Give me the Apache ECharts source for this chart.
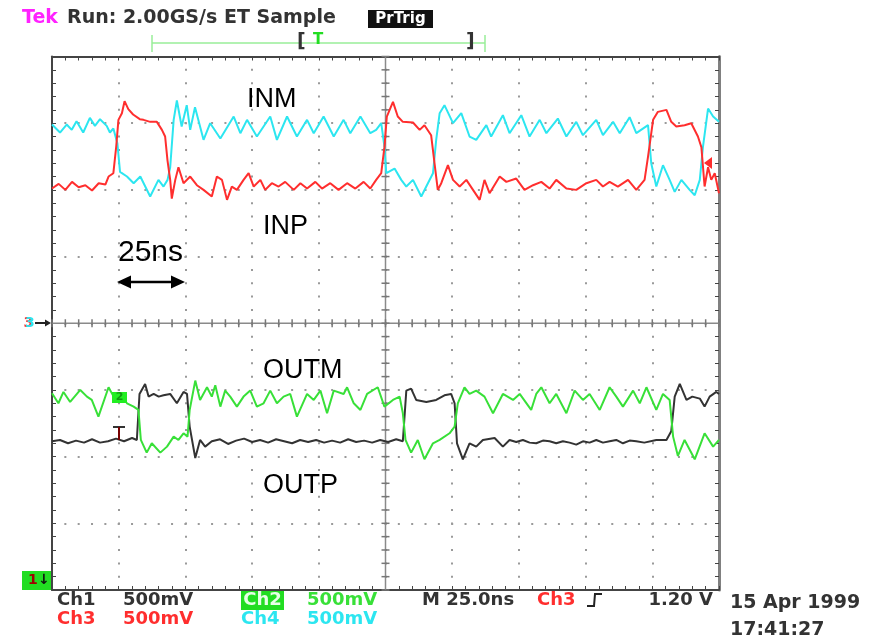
<!DOCTYPE html>
<html>
<head>
<meta charset="utf-8">
<script src="https://cdn.jsdelivr.net/npm/echarts@6/dist/echarts.min.js"></script>
<style>
html,body{margin:0;padding:0;background:#fff;}
#chart{width:879px;height:643px;}
</style>
</head>
<body>
<div id="chart"></div>
<script>
// ---- Axis settings (time in ns, vertical in screen divisions, 500 mV/div) ----
const TIME_MIN = 0, TIME_MAX = 250, TIME_PER_DIV = 25;
const DIV_MIN = -4, DIV_MAX = 4, DIV_STEP = 1;

// ---- Traces: [time ns, divisions] ----
const ch4INM = [[0,2.98],[3,2.86],[5.5,2.98],[7.4,2.90],[9.2,3.03],[11.7,2.86],[14.2,3.08],[16.1,2.96],[18,3.06],[20.5,2.96],[21.7,2.86],[23,2.92],[24.5,2.70],[25.5,2.27],[26.2,2.25],[28.1,2.20],[30.6,2.10],[33.1,2.20],[36.8,1.90],[39.9,2.15],[41.8,2.05],[43.3,2.15],[44.3,2.34],[45.6,3.05],[46.8,3.34],[48.6,2.95],[50.5,3.27],[51.8,2.90],[53.6,3.24],[56.8,2.75],[59.3,3.00],[63.1,2.77],[68.1,3.10],[70.6,2.85],[73.1,3.05],[76.8,2.80],[81.8,3.10],[84.3,2.75],[88.1,3.10],[91.8,2.80],[95.6,3.05],[98.1,2.85],[101.8,3.10],[105.6,2.80],[109.3,3.05],[111.8,2.85],[115.6,3.10],[119.3,2.85],[121.5,2.90],[123.4,3.00],[124.6,2.65],[125.3,2.25],[128.4,2.32],[130.9,2.15],[132.8,2.05],[135.3,2.15],[138.4,1.90],[140.9,2.10],[142.8,2.25],[144,2.75],[145.3,3.15],[147.1,3.27],[150.3,3.00],[153.4,3.15],[156.5,2.80],[159,2.75],[162.8,2.97],[164.6,2.80],[169,3.12],[171.5,2.85],[175.9,3.12],[179,2.80],[182.8,3.05],[185.3,2.85],[189.6,3.07],[192.8,2.80],[196.5,3.02],[199,2.82],[204,3.05],[206.5,2.82],[210.3,3.02],[212.8,2.85],[216.5,3.09],[219,2.85],[223.4,2.97],[224.6,2.40],[226.5,2.05],[229,2.37],[231.5,2.15],[233.4,1.97],[235.9,2.15],[239,2.00],[240.9,1.92],[242.8,2.15],[244,2.65],[245.9,3.22],[247.8,3.10],[250,3.02]];

const ch3INP = [[0,2.02],[2.5,2.09],[5,2.00],[7.5,2.12],[10,2.04],[12.5,2.07],[15,1.99],[17.5,2.10],[20,2.08],[21.2,2.20],[23,2.25],[24.05,2.64],[24.9,3.05],[26.2,3.15],[27.2,3.33],[28.6,3.21],[30.4,3.13],[32.9,3.06],[34.3,3.05],[36.8,3.02],[39.3,3.02],[41.2,2.90],[42.4,2.80],[43.3,2.44],[44.3,2.15],[44.9,1.87],[46.2,2.15],[47.4,2.34],[49.3,2.10],[51.8,2.20],[54.3,2.07],[56.8,2.00],[59.9,1.90],[61.8,2.20],[63.7,2.15],[65.6,1.85],[67.4,2.05],[69.3,2.00],[71.8,2.15],[73.7,2.25],[75.6,2.05],[78.1,2.15],[79.9,2.00],[82.4,2.10],[84.9,2.05],[87.4,2.12],[90.6,2.00],[93.1,2.10],[95.6,2.02],[98.7,2.12],[101.2,2.02],[104.3,2.10],[107.4,2.00],[110.6,2.10],[113.7,2.02],[116.8,2.12],[119.3,2.02],[121.5,2.15],[123.4,2.25],[124.6,2.64],[125.5,3.10],[127.8,3.32],[129.6,3.10],[131.5,3.02],[135.3,3.01],[137.8,2.90],[139.6,2.97],[142.1,2.82],[143.4,2.39],[144.6,2.00],[145.9,2.10],[148.4,2.37],[150.3,2.15],[152.8,2.05],[155.3,2.15],[157.8,2.00],[160.3,1.85],[162.1,2.15],[164,1.95],[167.8,2.20],[170.3,2.12],[174,2.17],[177.1,2.00],[180.3,2.07],[183.4,2.12],[186.5,2.02],[189,2.15],[192.8,2.02],[196.5,2.00],[200.3,2.10],[204,2.15],[206.5,2.05],[209,2.12],[212.1,2.05],[215.9,2.15],[219,2.00],[222.1,2.15],[223.4,2.50],[225.3,3.05],[227.1,3.17],[230.3,3.20],[232.1,3.02],[234,2.95],[237.1,2.97],[239.6,3.00],[242.1,2.80],[243.4,2.64],[244.6,2.05],[245.9,2.34],[247.1,2.15],[248.4,2.25],[250,1.95]];

const ch2OUTM = [[0,-1.05],[2.4,-1.20],[4.3,-1.03],[6.8,-1.18],[10.6,-1.00],[13.1,-1.10],[14.9,-1.15],[17.4,-1.40],[21.2,-0.96],[23.1,-1.10],[25.6,-1.06],[28.1,-1.20],[30.6,-1.25],[32.4,-1.30],[33.3,-1.75],[35.5,-1.94],[37.4,-1.80],[40.6,-1.94],[43.1,-1.85],[45.6,-1.70],[47.4,-1.75],[49.3,-1.65],[50.8,-1.70],[51.6,-1.30],[53.7,-0.86],[55.5,-1.15],[58.1,-0.96],[59.9,-1.10],[61.2,-0.93],[63.1,-1.25],[64.9,-1.01],[66.8,-1.10],[69.3,-1.25],[71.8,-1.10],[74.3,-1.01],[76.8,-1.25],[79.3,-1.20],[81.8,-1.01],[84.3,-1.20],[86.8,-1.10],[89.3,-1.06],[91.8,-1.40],[95.6,-1.06],[98.1,-1.15],[100.6,-1.01],[103.1,-1.35],[105.6,-1.01],[109.3,-1.06],[110.6,-0.96],[113.1,-1.20],[115.6,-1.30],[118.1,-1.06],[122.1,-0.96],[124.6,-1.25],[127.8,-1.15],[130.3,-1.10],[131.5,-1.35],[132.5,-1.75],[134.6,-1.94],[137.1,-1.75],[139.6,-2.04],[142.8,-1.80],[145.3,-1.75],[149,-1.65],[150.9,-1.55],[152.1,-1.20],[154.6,-0.96],[156.5,-1.06],[159,-1.01],[162.1,-1.10],[165.3,-1.35],[169,-1.06],[172.8,-1.15],[175.3,-1.06],[179.6,-1.30],[181.5,-1.06],[183.4,-0.96],[186.5,-1.20],[189,-1.06],[192.8,-1.35],[195.9,-1.01],[199,-1.15],[201.5,-1.06],[205.3,-1.30],[209,-0.96],[211.5,-1.10],[214,-1.25],[217.8,-1.01],[220.3,-1.20],[222.8,-0.96],[226.5,-1.30],[229,-1.06],[231.5,-1.15],[232.8,-1.70],[234.6,-1.99],[237.1,-1.75],[240.9,-2.04],[244.6,-1.65],[247.8,-1.85],[250,-1.75]];

const ch1OUTP = [[0,-1.77],[3,-1.75],[6,-1.80],[9,-1.76],[12,-1.79],[15,-1.74],[18,-1.79],[21,-1.77],[24,-1.73],[27,-1.77],[30,-1.72],[31.8,-1.75],[32.8,-1.06],[34.9,-0.91],[36.2,-1.10],[38.1,-1.06],[40,-1.10],[41.8,-1.08],[44.3,-1.06],[46.8,-1.20],[49.3,-1.03],[50.6,-1.06],[51.6,-1.55],[53.7,-2.02],[55.5,-1.75],[57.4,-1.85],[59.9,-1.77],[63,-1.74],[66,-1.81],[69,-1.76],[72,-1.73],[75,-1.78],[78,-1.75],[81,-1.79],[84,-1.74],[87,-1.77],[90,-1.80],[93,-1.75],[96,-1.78],[99,-1.75],[102,-1.79],[105,-1.76],[108,-1.79],[111,-1.74],[114,-1.78],[117,-1.76],[120,-1.79],[123,-1.75],[126,-1.78],[129,-1.74],[131.5,-1.77],[132.8,-1.01],[134.6,-0.98],[136.5,-1.15],[140.3,-1.18],[144,-1.15],[147.1,-1.08],[149.6,-1.06],[150.9,-1.20],[151.8,-1.80],[154,-2.04],[156.5,-1.80],[159,-1.85],[161.5,-1.75],[165.9,-1.72],[169,-1.85],[171.5,-1.75],[174,-1.78],[176.5,-1.75],[179,-1.79],[181.5,-1.80],[184,-1.76],[186.5,-1.77],[189,-1.80],[191.5,-1.77],[194,-1.79],[196.5,-1.82],[199,-1.77],[201.5,-1.79],[204,-1.75],[206.5,-1.79],[209,-1.77],[211.5,-1.75],[214,-1.80],[216.5,-1.76],[219,-1.77],[222,-1.79],[226.5,-1.75],[230.3,-1.75],[232.1,-1.62],[233.4,-1.10],[235.3,-0.91],[237.8,-1.15],[240,-1.10],[242.8,-1.13],[244.6,-1.25],[246.5,-1.10],[249,-1.03],[250,-1.06]];

// ---- Texts ----
const headerTexts = ['Tek', 'Run: 2.00GS/s ET Sample', 'PrTrig'];
const signalLabels = ['INM', 'INP', 'OUTM', 'OUTP'];
const scaleLabel = '25ns';
const statusRow1 = ['Ch1', '500mV', 'Ch2', '500mV', 'M 25.0ns', 'Ch3', '1.20 V'];
const statusRow2 = ['Ch3', '500mV', 'Ch4', '500mV'];
const dateTexts = ['15 Apr 1999', '17:41:27'];

const COL = {ch1:'#333333', ch2:'#38e038', ch3:'#ff2e2e', ch4:'#2ce6f0', grid:'#9a9a9a', frame:'#444444', magenta:'#ff22ff'};

const SCOPE_FONT = '"DejaVu Sans", sans-serif';
const LABEL_FONT = '"Liberation Sans", Arial, sans-serif';

const chart = echarts.init(document.getElementById('chart'), null, {renderer:'canvas'});

const tickCommon = {
  axisLabel:{show:false},
  axisTick:{show:true, inside:true, length:4, lineStyle:{color:COL.frame, width:1}},
  minorTick:{show:true, splitNumber:5, length:4, lineStyle:{color:COL.frame, width:1}}
};
const dots = {show:true, lineStyle:{color:COL.grid, width:2, type:[2, 11.34], dashOffset:1}};

function txt(x, y, text, font, fill, align) {
  return {type:'text', z:100, style:{x:x, y:y, text:text, font:font, fill:fill, align:align||'left', verticalAlign:'middle'}};
}
function line(x1, y1, x2, y2, stroke, w) {
  return {type:'line', z:100, shape:{x1:x1, y1:y1, x2:x2, y2:y2}, style:{stroke:stroke, lineWidth:w||1}};
}
function rect(x, y, w, h, fill) {
  return {type:'rect', z:99, shape:{x:x, y:y, width:w, height:h}, style:{fill:fill}};
}
function poly(points, fill) {
  return {type:'polygon', z:100, shape:{points:points}, style:{fill:fill}};
}

const bold18 = 'bold 18px ' + SCOPE_FONT;
const bold19 = 'bold 19px ' + SCOPE_FONT;
const graphics = [
  // header
  txt(22, 18.5, headerTexts[0], bold19, COL.magenta),
  txt(67, 18.5, headerTexts[1], bold19, '#333'),
  rect(368, 10, 65, 18, '#111'),
  txt(400.5, 19, headerTexts[2], 'bold 15px ' + SCOPE_FONT, '#fff', 'center'),
  // record position bar
  line(152, 43, 485, 43, '#99ee99', 1.5),
  line(152, 35, 152, 52, '#99ee99', 1.5),
  line(485, 35, 485, 52, '#99ee99', 1.5),
  txt(297, 42, '[', 'bold 19px ' + SCOPE_FONT, '#333'),
  txt(466, 42, ']', 'bold 19px ' + SCOPE_FONT, '#333'),
  txt(313, 40, 'T', 'bold 15px ' + SCOPE_FONT, '#22dd22'),
  // signal labels
  txt(247, 100, signalLabels[0], '27px ' + LABEL_FONT, '#000'),
  txt(263, 227, signalLabels[1], '27px ' + LABEL_FONT, '#000'),
  txt(263, 371, signalLabels[2], '27px ' + LABEL_FONT, '#000'),
  txt(263, 486, signalLabels[3], '27px ' + LABEL_FONT, '#000'),
  txt(118, 253, scaleLabel, '30px ' + LABEL_FONT, '#000'),
  line(128, 282, 174, 282, '#000', 2.5),
  poly([[117,282],[131,275.5],[131,288.5]], '#000'),
  poly([[185,282],[171,275.5],[171,288.5]], '#000'),
  // ground markers
  txt(23.5, 323, '3', 'bold 14px ' + SCOPE_FONT, COL.ch3),
  txt(25, 323, '3', 'bold 14px ' + SCOPE_FONT, COL.ch4),
  line(35, 323, 46, 323, '#222', 2),
  poly([[51,323],[45,319.5],[45,326.5]], '#222'),
  rect(22, 571, 29, 19, '#22dd22'),
  txt(28, 580.5, '1', 'bold 14px ' + SCOPE_FONT, '#a00000'),
  txt(38, 580.5, '\u2193', 'bold 14px ' + SCOPE_FONT, '#111'),
  rect(112, 392, 15, 11, '#22ee22'),
  txt(119.5, 397.5, '2', 'bold 11px ' + SCOPE_FONT, '#119911', 'center'),
  line(113, 427, 125, 427, '#333', 2),
  line(119, 427, 119, 440, '#700', 2),
  poly([[704,163],[712,157],[712,169]], COL.ch3),
  // status rows
  txt(57, 600, statusRow1[0], bold18, COL.ch1),
  txt(123, 600, statusRow1[1], bold18, COL.ch1),
  rect(241, 591, 43, 19, '#22dd22'),
  txt(262.5, 600.5, statusRow1[2], bold18, '#e6ffe6', 'center'),
  txt(307, 600, statusRow1[3], bold18, COL.ch2),
  txt(422, 600, statusRow1[4], bold18, COL.ch1),
  txt(537, 600, statusRow1[5], bold18, COL.ch3),
  {type:'polyline', z:100, shape:{points:[[587,606],[594,606],[595,594],[602,594]]}, style:{stroke:'#222', lineWidth:2, fill:null}},
  txt(713, 600, statusRow1[6], bold18, COL.ch1, 'right'),
  txt(57, 619.5, statusRow2[0], bold18, COL.ch3),
  txt(123, 619.5, statusRow2[1], bold18, COL.ch3),
  txt(241, 619.5, statusRow2[2], bold18, COL.ch4),
  txt(307, 619.5, statusRow2[3], bold18, COL.ch4),
  txt(730, 603.5, dateTexts[0], bold19, '#333'),
  txt(730, 630, dateTexts[1], bold19, '#333')
];

function traceSeries(name, data, color) {
  return {
    name:name, type:'line', data:data, showSymbol:false, symbol:'none',
    lineStyle:{color:color, width:2}, itemStyle:{color:color},
    animation:false, silent:true, z:5
  };
}

const option = {
  backgroundColor:'#ffffff',
  animation:false,
  grid:{left:52, top:56.5, right:160, bottom:53, show:false},
  xAxis:[
    Object.assign({type:'value', min:TIME_MIN, max:TIME_MAX, interval:TIME_PER_DIV, position:'bottom',
      axisLine:{show:true, onZero:false, lineStyle:{color:COL.frame, width:2}},
      splitLine:dots}, tickCommon),
    Object.assign({type:'value', min:TIME_MIN, max:TIME_MAX, interval:TIME_PER_DIV, position:'top',
      axisLine:{show:true, onZero:false, lineStyle:{color:COL.frame, width:2}},
      splitLine:{show:false}}, tickCommon)
  ],
  yAxis:[
    Object.assign({type:'value', min:DIV_MIN, max:DIV_MAX, interval:DIV_STEP, position:'left',
      axisLine:{show:true, onZero:false, lineStyle:{color:COL.frame, width:2}},
      splitLine:dots}, tickCommon),
    Object.assign({type:'value', min:DIV_MIN, max:DIV_MAX, interval:DIV_STEP, position:'right',
      axisLine:{show:true, onZero:false, lineStyle:{color:'#808080', width:3}},
      splitLine:{show:false}}, tickCommon)
  ],
  series:[
    {
      type:'custom', silent:true, z:1, animation:false,
      data:[[ (TIME_MIN+TIME_MAX)/2, 0 ]],
      renderItem:function(params, api){
        const cx = (TIME_MIN+TIME_MAX)/2;
        const children = [];
        const st = {stroke:'#8a8a8a', lineWidth:1.5};
        const a = api.coord([cx, DIV_MAX]), b = api.coord([cx, DIV_MIN]);
        const l = api.coord([TIME_MIN, 0]), r = api.coord([TIME_MAX, 0]);
        children.push({type:'line', shape:{x1:a[0], y1:a[1], x2:b[0], y2:b[1]}, style:st});
        children.push({type:'line', shape:{x1:l[0], y1:l[1], x2:r[0], y2:r[1]}, style:st});
        const tst = {stroke:'#777', lineWidth:1.5};
        for (let t = TIME_MIN; t <= TIME_MAX + 1e-6; t += TIME_PER_DIV/5) {
          const p = api.coord([t, 0]);
          children.push({type:'line', shape:{x1:p[0], y1:p[1]-4, x2:p[0], y2:p[1]+4}, style:tst});
        }
        for (let v = DIV_MIN; v <= DIV_MAX + 1e-6; v += DIV_STEP/5) {
          const p = api.coord([cx, v]);
          children.push({type:'line', shape:{x1:p[0]-4, y1:p[1], x2:p[0]+4, y2:p[1]}, style:tst});
        }
        return {type:'group', children:children};
      }
    },
    traceSeries('Ch1 OUTP', ch1OUTP, COL.ch1),
    traceSeries('Ch2 OUTM', ch2OUTM, COL.ch2),
    traceSeries('Ch4 INM', ch4INM, COL.ch4),
    traceSeries('Ch3 INP', ch3INP, COL.ch3)
  ],
  graphic:graphics
};

chart.setOption(option);
</script>
</body>
</html>
